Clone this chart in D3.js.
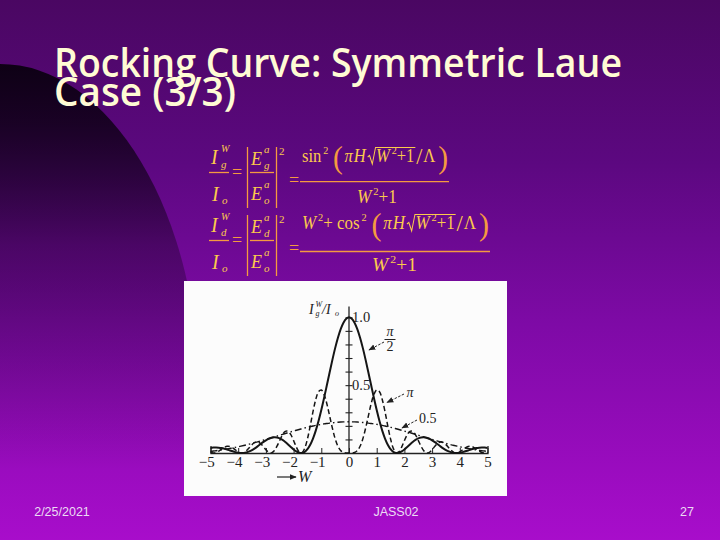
<!DOCTYPE html>
<html><head><meta charset="utf-8">
<script src="https://cdn.jsdelivr.net/npm/d3@7"></script>
<style>html,body{margin:0;padding:0;background:#6a0a8c;} svg{display:block;}</style>
</head><body><svg id="s" width="720" height="540"></svg>
<script>
// ---------------- data ----------------
const W_VALUES = [-5,-4.9,-4.8,-4.7,-4.6,-4.5,-4.4,-4.3,-4.2,-4.1,-4,-3.9,-3.8,-3.7,-3.6,-3.5,-3.4,-3.3,-3.2,-3.1,-3,-2.9,-2.8,-2.7,-2.6,-2.5,-2.4,-2.3,-2.2,-2.1,-2,-1.9,-1.8,-1.7,-1.6,-1.5,-1.4,-1.3,-1.2,-1.1,-1,-0.9,-0.8,-0.7,-0.6,-0.5,-0.4,-0.3,-0.2,-0.1,0,0.1,0.2,0.3,0.4,0.5,0.6,0.7,0.8,0.9,1,1.1,1.2,1.3,1.4,1.5,1.6,1.7,1.8,1.9,2,2.1,2.2,2.3,2.4,2.5,2.6,2.7,2.8,2.9,3,3.1,3.2,3.3,3.4,3.5,3.6,3.7,3.8,3.9,4,4.1,4.2,4.3,4.4,4.5,4.6,4.7,4.8,4.9,5];

// solid curve, label pi/2
const CURVE_HALF_PI = [0.0375,0.0400,0.0406,0.0394,0.0363,0.0315,0.0255,0.0189,0.0123,0.0065,0.0022,0.0001,0.0008,0.0046,0.0116,0.0218,0.0344,0.0489,0.0644,0.0797,0.0936,0.1051,0.1129,0.1163,0.1148,0.1081,0.0968,0.0815,0.0634,0.0444,0.0263,0.0114,0.0020,0.0005,0.0088,0.0287,0.0612,0.1067,0.1652,0.2358,0.3166,0.4052,0.4988,0.5937,0.6863,0.7728,0.8495,0.9130,0.9606,0.9900,
1.0000,
0.9900,0.9606,0.9130,0.8495,0.7728,0.6863,0.5937,0.4988,0.4052,0.3166,0.2358,0.1652,0.1067,0.0612,0.0287,0.0088,0.0005,0.0020,0.0114,0.0263,0.0444,0.0634,0.0815,0.0968,0.1081,0.1148,0.1163,0.1129,0.1051,0.0936,0.0797,0.0644,0.0489,0.0344,0.0218,0.0116,0.0046,0.0008,0.0001,0.0022,0.0065,0.0123,0.0189,0.0255,0.0315,0.0363,0.0394,0.0406,0.0400,0.0375];

// dashed curve, label pi
const CURVE_PI = [0.0036,0.0000,0.0038,0.0143,0.0285,0.0417,0.0490,0.0477,0.0378,0.0228,0.0084,0.0004,0.0031,0.0171,0.0389,0.0618,0.0781,0.0819,0.0712,0.0493,0.0238,0.0047,0.0008,0.0167,0.0501,0.0932,0.1338,0.1589,0.1597,0.1348,0.0913,0.0431,0.0080,0.0019,0.0344,0.1039,0.2000,0.3042,0.3945,0.4517,0.4646,0.4316,0.3631,0.2739,0.1828,0.1051,0.0495,0.0174,0.0037,0.0002,
0.0000,
0.0002,0.0037,0.0174,0.0495,0.1051,0.1828,0.2739,0.3631,0.4316,0.4646,0.4517,0.3945,0.3042,0.2000,0.1039,0.0344,0.0019,0.0080,0.0431,0.0913,0.1348,0.1597,0.1589,0.1338,0.0932,0.0501,0.0167,0.0008,0.0047,0.0238,0.0493,0.0712,0.0819,0.0781,0.0618,0.0389,0.0171,0.0031,0.0004,0.0084,0.0228,0.0378,0.0477,0.0490,0.0417,0.0285,0.0143,0.0038,0.0000,0.0036];

// dash-dot curve, label 0.5
const CURVE_HALF = [0.0120,0.0143,0.0169,0.0196,0.0227,0.0259,0.0294,0.0332,0.0371,0.0413,0.0457,0.0505,0.0553,0.0603,0.0655,0.0709,0.0764,0.0821,0.0880,0.0939,0.1000,0.1061,0.1123,0.1186,0.1248,0.1311,0.1373,0.1436,0.1497,0.1559,0.1617,0.1675,0.1732,0.1787,0.1841,0.1892,0.1941,0.1987,0.2032,0.2073,0.2110,0.2146,0.2176,0.2204,0.2228,0.2249,0.2267,0.2281,0.2291,0.2297,
0.2298,
0.2297,0.2291,0.2281,0.2267,0.2249,0.2228,0.2204,0.2176,0.2146,0.2110,0.2073,0.2032,0.1987,0.1941,0.1892,0.1841,0.1787,0.1732,0.1675,0.1617,0.1559,0.1497,0.1436,0.1373,0.1311,0.1248,0.1186,0.1123,0.1061,0.1000,0.0939,0.0880,0.0821,0.0764,0.0709,0.0655,0.0603,0.0553,0.0505,0.0457,0.0413,0.0371,0.0332,0.0294,0.0259,0.0227,0.0196,0.0169,0.0143,0.0120];

const X_TICKS = [-5,-4,-3,-2,-1,0,1,2,3,4,5];
const Y_TICKS = [0.1,0.2,0.3,0.4,0.5,0.6,0.7,0.8,0.9,1.0];
const Y_LABELS = [0.5,1.0];
const TITLE_LINES = ["Rocking Curve: Symmetric Laue", "Case (3/3)"];
const FOOTER_TEXTS = ["2/25/2021", "JASS02", "27"];

// ---------------- drawing ----------------
const svg = d3.select("#s");
const defs = svg.append("defs");
const bg = defs.append("linearGradient").attr("id","bg").attr("x1",0).attr("y1",0).attr("x2",0).attr("y2",1);
[[0,"#4a0762"],[0.3,"#5c0880"],[0.6,"#7e0aa6"],[1,"#a80dcb"]].forEach(s=>bg.append("stop").attr("offset",s[0]).attr("stop-color",s[1]));
const sh = defs.append("linearGradient").attr("id","sh").attr("gradientUnits","userSpaceOnUse").attr("x1",0).attr("y1",62).attr("x2",0).attr("y2",470);
[[0,"#0a0010",0.95],[0.15,"#0a0010",0.8],[0.45,"#0a0010",0.35],[1,"#0a0010",0]].forEach(s=>sh.append("stop").attr("offset",s[0]).attr("stop-color",s[1]).attr("stop-opacity",s[2]));

svg.append("rect").attr("width",720).attr("height",540).attr("fill","url(#bg)");
svg.append("ellipse").attr("cx",0).attr("cy",400).attr("rx",200).attr("ry",336).attr("fill","url(#sh)");

// title
const title = svg.append("g").attr("fill","#fffbd4").attr("font-family","'Open Sans', 'Noto Sans', sans-serif").attr("font-weight",600).attr("font-size",39);
title.append("text").attr("x",54).attr("y",77).attr("textLength",568).attr("lengthAdjust","spacingAndGlyphs").text(TITLE_LINES[0]);
title.append("text").attr("x",54).attr("y",106).attr("textLength",182).attr("lengthAdjust","spacingAndGlyphs").text(TITLE_LINES[1]);

// footer
const foot = svg.append("g").attr("fill","#ecdcf4").attr("font-family","'Liberation Sans', Arial, sans-serif").attr("font-size",12.5);
foot.append("text").attr("x",62).attr("y",516).attr("text-anchor","middle").text(FOOTER_TEXTS[0]);
foot.append("text").attr("x",396).attr("y",516).attr("text-anchor","middle").text(FOOTER_TEXTS[1]);
foot.append("text").attr("x",687).attr("y",516).attr("text-anchor","middle").text(FOOTER_TEXTS[2]);

// ---------------- formulas ----------------
const GOLD = "#fcca4c", ORANGE = "#f59a40";
const fg = svg.append("g").attr("font-family","'Liberation Serif','Times New Roman',serif").attr("fill",GOLD);

function txt(x,y,t,size,it,anchor){
  return fg.append("text").attr("x",x).attr("y",y).attr("font-size",size).attr("font-style",it?"italic":"normal")
    .attr("text-anchor",anchor||"start").text(t);
}
function hline(x1,x2,y,w){ fg.append("line").attr("x1",x1).attr("x2",x2).attr("y1",y).attr("y2",y).attr("stroke",ORANGE).attr("stroke-width",w||1.3); }
function vline(x,y1,y2){ fg.append("line").attr("x1",x).attr("x2",x).attr("y1",y1).attr("y2",y2).attr("stroke",ORANGE).attr("stroke-width",1.3); }

function layout(pieces, x0, baseline, x1target){
  const g = fg.append("g");
  let x = x0; const marks = {};
  pieces.forEach(p=>{
    x += p.gap||0;
    if (p.mark){ marks[p.mark]=x; return; }
    const t = g.append("text").attr("x",x).attr("y",baseline+(p.dy||0)).attr("font-size",p.size||18)
      .attr("font-style",p.it?"italic":"normal").attr("fill",p.c||GOLD).text(p.t);
    x += t.node().getComputedTextLength();
  });
  if (marks.rs!==undefined){
    const rs=marks.rs, re=marks.re, top=baseline-14.5;
    g.append("path").attr("d",`M${rs-9},${baseline-5}L${rs-7},${baseline-6.5}L${rs-4},${baseline+2}L${rs-0.5},${top}L${re},${top}`)
      .attr("fill","none").attr("stroke",GOLD).attr("stroke-width",1.1);
  }
  if (x1target!==undefined){
    const k=(x1target-x0)/(x-x0);
    g.attr("transform",`translate(${x0},0) scale(${k},1) translate(${-x0},0)`);
  }
  return g;
}
const SUP = {size:11, dy:-8, gap:2};
function lhs(dy, sub){
  // I^W_sub / I_o
  txt(211,164+dy,"I",20,true);
  txt(221,152+dy,"W",10,true);
  txt(221,168+dy,sub,11,true);
  hline(209,229,172.5+dy);
  txt(212,201+dy,"I",20,true);
  txt(222,204+dy,"o",11,true);
  txt(237,178+dy,"=",18,false,"middle").attr("fill",ORANGE);
  vline(247.5,147+dy,208+dy); vline(276.5,147+dy,208+dy);
  txt(251,165+dy,"E",18,true);
  txt(264,153+dy,"a",11,true);
  txt(264,169+dy,sub,11,true);
  hline(250,274,172.5+dy);
  txt(251,200+dy,"E",18,true);
  txt(264,188+dy,"a",11,true);
  txt(264,204+dy,"o",11,true);
  txt(279,155+dy,"2",11,false);
  txt(294,186+dy,"=",18,false,"middle").attr("fill",ORANGE);
}
lhs(0,"g");
lhs(68,"d");

const BIGL = {t:"(", size:32, dy:6, gap:5, c:ORANGE};
const BIGR = {t:")", size:32, dy:6, gap:3, c:ORANGE};
const rootPart = [{t:"π",it:true,gap:2},{t:"H",it:true,gap:1},{mark:"rs",gap:11},{t:"W",it:true},{t:"2",...SUP},{t:" +1"},{mark:"re",gap:1},{t:"/",size:24,dy:2,gap:1},{t:"Λ",gap:1}];
layout([{t:"sin"},{t:"2",...SUP},BIGL,...rootPart,BIGR], 302, 162, 448);
hline(300,449,181.7);
layout([{t:"W",it:true},{t:"2",...SUP},{t:" +1"}], 357, 203, 397);

layout([{t:"W",it:true},{t:"2",...SUP},{t:" + cos"},{t:"2",...SUP},BIGL,...rootPart,BIGR], 302, 229, 489);
hline(300,490,251.5);
layout([{t:"W",it:true},{t:"2",...SUP},{t:" +1"}], 372, 271, 417);

// ---------------- chart ----------------
svg.append("rect").attr("x",184).attr("y",281).attr("width",323).attr("height",215).attr("fill","#fcfcfc");

const x = d3.scaleLinear().domain([-5,5]).range([210.5,487.5]);
const y = d3.scaleLinear().domain([0,1]).range([453,317.3]);
const chart = svg.append("g").attr("font-family","'Liberation Serif','Times New Roman',serif").attr("fill","#222");

// x axis
const xa = chart.append("g").attr("transform",`translate(0,${y(0)})`)
  .call(d3.axisBottom(x).tickValues(X_TICKS).tickSizeInner(-5).tickSizeOuter(-7).tickPadding(3).tickFormat(d=>d<0?"\u2212"+Math.abs(d):String(d)));
xa.select(".domain").attr("stroke","#222").attr("stroke-width",1.3);
xa.selectAll(".tick line").attr("stroke","#222");
xa.selectAll(".tick text").attr("font-size",15).attr("fill","#222").attr("font-family","'Liberation Serif',serif")
  .attr("text-anchor",d=>d<0?"end":"middle").attr("dx",d=>d<0?3.8:0);

// y axis
chart.append("line").attr("x1",x(0)).attr("x2",x(0)).attr("y1",y(0)).attr("y2",y(1.08)).attr("stroke","#222").attr("stroke-width",1.3);
const yaL = chart.append("g").attr("transform",`translate(${x(0)},0)`).call(d3.axisLeft(y).tickValues(Y_TICKS).tickSizeInner(3.5).tickSizeOuter(0).tickFormat(""));
const yaR = chart.append("g").attr("transform",`translate(${x(0)},0)`).call(d3.axisRight(y).tickValues(Y_TICKS).tickSizeInner(3.5).tickSizeOuter(0).tickFormat(""));
[yaL,yaR].forEach(a=>{a.select(".domain").remove(); a.selectAll(".tick line").attr("stroke","#222").attr("stroke-width",1.1);});
chart.selectAll(".ylab").data(Y_LABELS).join("text").attr("class","ylab")
  .attr("x",x(0)+3).attr("y",d=>y(d)+5).attr("font-size",14.5).text(d=>d.toFixed(1));

// axis titles
chart.append("text").attr("x",309).attr("y",314).attr("font-size",14).attr("font-style","italic").text("I");
chart.append("text").attr("x",315.5).attr("y",307).attr("font-size",8).attr("font-style","italic").text("W");
chart.append("text").attr("x",315.5).attr("y",316).attr("font-size",8).attr("font-style","italic").text("g");
chart.append("text").attr("x",322).attr("y",314).attr("font-size",14).attr("font-style","italic").text("/I");
chart.append("text").attr("x",335).attr("y",316).attr("font-size",8).attr("font-style","italic").text("o");

defs.append("marker").attr("id","ah").attr("viewBox","0 0 10 10").attr("refX",9).attr("refY",5)
  .attr("markerWidth",7).attr("markerHeight",7).attr("markerUnits","userSpaceOnUse").attr("orient","auto")
  .append("path").attr("d","M0,1L10,5L0,9Z").attr("fill","#222");
chart.append("line").attr("x1",277).attr("x2",296).attr("y1",477).attr("y2",477).attr("stroke","#222").attr("stroke-width",1.2).attr("marker-end","url(#ah)");
chart.append("text").attr("x",298).attr("y",482).attr("font-size",16).attr("font-style","italic").text("W");

// curves
const series = [
  {vals:CURVE_HALF, dash:"7,3,1.5,3", w:1.4},
  {vals:CURVE_PI, dash:"5,3", w:1.5},
  {vals:CURVE_HALF_PI, dash:null, w:2}
];
const line = d3.line().x((d,i)=>x(W_VALUES[i])).y(d=>y(d)).curve(d3.curveCatmullRom);
series.forEach(s=>{
  chart.append("path").attr("d",line(s.vals)).attr("fill","none").attr("stroke","#151515")
    .attr("stroke-width",s.w).attr("stroke-dasharray",s.dash).attr("stroke-linejoin","round");
});

// curve labels with dashed leader arrows
const lab = chart.append("g").attr("font-size",14);
lab.append("text").attr("x",390).attr("y",336).attr("text-anchor","middle").attr("font-style","italic").text("π");
lab.append("line").attr("x1",384.5).attr("x2",395.5).attr("y1",339.5).attr("y2",339.5).attr("stroke","#222").attr("stroke-width",1);
lab.append("text").attr("x",390).attr("y",351).attr("text-anchor","middle").text("2");
lab.append("text").attr("x",410).attr("y",397).attr("text-anchor","middle").attr("font-style","italic").text("π");
lab.append("text").attr("x",419).attr("y",423).text("0.5");
const leaders = [[384,342,369,350],[404,394,387,402.5],[417,420,402,428]];
leaders.forEach(l=>chart.append("line").attr("x1",l[0]).attr("y1",l[1]).attr("x2",l[2]).attr("y2",l[3])
  .attr("stroke","#222").attr("stroke-width",1).attr("stroke-dasharray","2.5,1.5").attr("marker-end","url(#ah)"));
</script></body></html>
